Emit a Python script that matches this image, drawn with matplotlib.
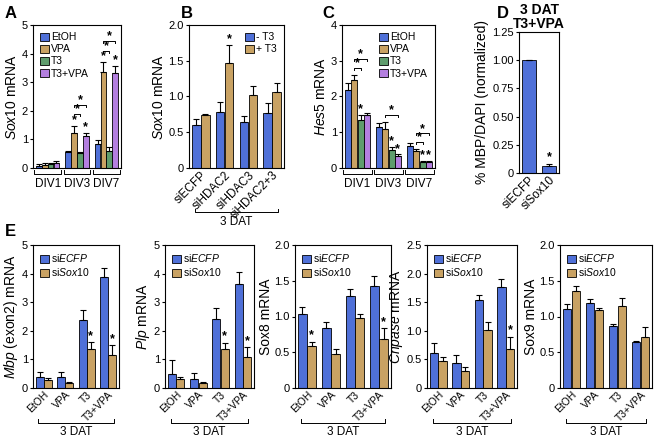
import matplotlib
matplotlib.use("Agg")
import matplotlib.pyplot as plt
import matplotlib.transforms as mtransforms
from matplotlib.patches import Patch
import numpy as np

plt.rcParams['font.family'] = ['Liberation Sans', 'DejaVu Sans']
plt.rcParams['mathtext.fontset'] = 'custom'
plt.rcParams['mathtext.rm'] = 'Liberation Sans'
plt.rcParams['mathtext.it'] = 'Liberation Sans:italic'
plt.rcParams['axes.linewidth'] = 0.8

BLUE = '#4f70d8'
TAN = '#c9a263'
GREEN = '#5f9d6d'
PURPLE = '#b47fe0'

# ---- panel A: Sox10 over time
divs = ['DIV1', 'DIV3', 'DIV7']
treat = ['EtOH', 'VPA', 'T3', 'T3+VPA']
a_vals = [[0.08, 0.55, 0.85], [0.12, 1.24, 3.37], [0.13, 0.52, 0.60], [0.17, 1.13, 3.32]]
a_errs = [[0.06, 0.03, 0.13], [0.07, 0.22, 0.33], [0.05, 0.05, 0.13], [0.07, 0.08, 0.25]]
a_stars = [(1, 1), (1, 2), (3, 1), (3, 2)]  # (series, group)
a_brackets = [(1, 1, 2, 1.89), (1, 1, 3, 2.2), (2, 1, 2, 4.1), (2, 1, 3, 4.44)]  # group, s1, s2, y

# ---- panel B: Sox10 with HDAC knockdown
b_cats = ['siECFP', 'siHDAC2', 'siHDAC3', 'siHDAC2+3']
b_minus = [0.60, 0.79, 0.65, 0.77]
b_minus_err = [0.09, 0.13, 0.08, 0.14]
b_plus = [0.74, 1.47, 1.02, 1.06]
b_plus_err = [0.02, 0.25, 0.13, 0.13]

# ---- panel C: Hes5
c_vals = [[2.17, 1.14, 0.61], [2.47, 1.08, 0.48], [1.33, 0.50, 0.17], [1.48, 0.33, 0.17]]
c_errs = [[0.22, 0.12, 0.08], [0.13, 0.22, 0.04], [0.15, 0.10, 0.03], [0.06, 0.05, 0.02]]
c_stars = [(2, 0), (2, 1), (3, 1), (2, 2), (3, 2)]
c_brackets = [(0, 1, 2, 2.8), (0, 1, 3, 3.05), (1, 1, 3, 1.48), (2, 1, 2, 0.74), (2, 1, 3, 0.97)]

# ---- panel D
d_cats = ['siECFP', 'siSox10']
d_vals = [1.00, 0.065]
d_errs = [0.0, 0.015]

# ---- panel E
e_cats = ['EtOH', 'VPA', 'T3', 'T3+VPA']
e_genes = [r'$\it{Mbp}$ (exon2) mRNA', r'$\it{Plp}$ mRNA', 'Sox8 mRNA', r'$\it{Cnpase}$ mRNA', 'Sox9 mRNA']
e_ecfp = [[0.40, 0.37, 2.37, 3.87], [0.50, 0.33, 2.42, 3.62], [1.04, 0.84, 1.28, 1.43],
          [0.62, 0.44, 1.54, 1.76], [1.10, 1.19, 0.87, 0.64]]
e_ecfp_err = [[0.17, 0.20, 0.37, 0.33], [0.48, 0.18, 0.38, 0.45], [0.09, 0.09, 0.10, 0.13],
              [0.16, 0.13, 0.09, 0.15], [0.07, 0.06, 0.02, 0.02]]
e_sox10 = [[0.27, 0.18, 1.38, 1.15], [0.30, 0.17, 1.37, 1.07], [0.59, 0.48, 0.98, 0.69],
           [0.47, 0.30, 1.02, 0.69], [1.35, 1.09, 1.14, 0.71]]
e_sox10_err = [[0.07, 0.03, 0.23, 0.35], [0.07, 0.05, 0.22, 0.37], [0.06, 0.07, 0.06, 0.15],
               [0.07, 0.07, 0.13, 0.21], [0.07, 0.03, 0.12, 0.15]]
e_stars = [[2, 3], [2, 3], [0, 3], [3], []]
e_ymax = [5, 5, 2.0, 2.5, 2.0]
e_ticks = [[0, 1, 2, 3, 4, 5], [0, 1, 2, 3, 4, 5], [0, 0.5, 1.0, 1.5, 2.0],
           [0, 0.5, 1.0, 1.5, 2.0, 2.5], [0, 0.5, 1.0, 1.5, 2.0]]
e_lefts = [33, 165, 295, 427, 560]
e_rights = [119, 254, 391, 517, 652]

W, H = 654, 437
fig = plt.figure(figsize=(W / 100, H / 100), dpi=100)

TICK = 8
LAB = 10
LEG = 7.5


def make_ax(l, r, t, b):
    return fig.add_axes([l / W, 1 - b / H, (r - l) / W, (b - t) / H])


def style(ax, ticks, labels=None, xsize=8.5):
    ax.set_yticks(ticks)
    if labels is None:
        labels = ['0' if v == 0 else (f'{v:g}' if max(ticks) >= 3 else f'{v:.1f}') for v in ticks]
    ax.set_yticklabels(labels)
    ax.tick_params(axis='y', labelsize=TICK, length=2.5, width=0.8, pad=1.2)
    ax.tick_params(axis='x', length=0, labelsize=xsize, pad=1)
    ax.set_ylim(0, max(ticks))


def bars(ax, x, vals, errs, color, width):
    ax.bar(x, vals, width, color=color, edgecolor='black', linewidth=0.6, zorder=2)
    ax.errorbar(x, vals, yerr=[np.zeros(len(vals)), errs], fmt='none', ecolor='black',
                elinewidth=0.8, capsize=2, capthick=0.8, zorder=3)


def star(ax, x, y):
    ax.annotate('*', (x, y), xytext=(0, -1), textcoords='offset points', ha='center',
                va='bottom', fontsize=9, fontweight='bold')


def sig(ax, x1, x2, y, h):
    ax.plot([x1, x1, x2, x2], [y - h, y, y, y - h], color='black', lw=0.7)
    star(ax, (x1 + x2) / 2, y)


def group_brackets(ax, centers, half, ylin, ytxt, labels, size=8.5):
    tr = mtransforms.blended_transform_factory(ax.transData, ax.transAxes)
    for c, lab in zip(centers, labels):
        ax.plot([c - half, c - half, c + half, c + half], [ylin + 0.025, ylin, ylin, ylin + 0.025],
                color='black', lw=0.7, transform=tr, clip_on=False)
        if lab:
            ax.text(c, ytxt, lab, transform=tr, ha='center', va='center', fontsize=size)


def legend(ax, labels, colors, loc):
    h = [Patch(facecolor=c, edgecolor='black', linewidth=0.6) for c in colors]
    ax.legend(h, labels, loc=loc, frameon=False, fontsize=LEG, handlelength=0.85,
              handleheight=0.85, handletextpad=0.2, labelspacing=0.2, borderaxespad=0.3)


# ---------------- A
axA = make_ax(33, 121, 25, 168)
g = np.arange(3)
offs = [-0.3, -0.1, 0.1, 0.3]
cols4 = [BLUE, TAN, GREEN, PURPLE]
for s in range(4):
    bars(axA, g + offs[s], a_vals[s], a_errs[s], cols4[s], 0.19)
for s, gi in a_stars:
    star(axA, gi + offs[s], a_vals[s][gi] + a_errs[s][gi] + 0.05)
for gi, s1, s2, y in a_brackets:
    sig(axA, gi + offs[s1], gi + offs[s2], y, 0.08)
axA.set_xlim(-0.5, 2.5)
axA.set_xticks([])
style(axA, [0, 1, 2, 3, 4, 5])
axA.set_ylabel(r'$\it{Sox10}$ mRNA', fontsize=LAB, labelpad=2)
legend(axA, treat, cols4, 'upper left')
group_brackets(axA, g, 0.46, -0.04, -0.11, divs)

# ---------------- B
axB = make_ax(189, 284, 25, 168)
x = np.arange(4)
bars(axB, x - 0.19, b_minus, b_minus_err, BLUE, 0.36)
bars(axB, x + 0.19, b_plus, b_plus_err, TAN, 0.36)
star(axB, 1 + 0.19, b_plus[1] + b_plus_err[1] + 0.02)
axB.set_xlim(-0.5, 3.5)
axB.set_xticks(x)
axB.set_xticklabels(b_cats, rotation=45, ha='right', rotation_mode='anchor')
style(axB, [0, 0.5, 1.0, 1.5, 2.0])
axB.set_ylabel(r'$\it{Sox10}$ mRNA', fontsize=LAB, labelpad=2)
legend(axB, ['- T3', '+ T3'], [BLUE, TAN], 'upper right')
group_brackets(axB, [1.5], 1.75, -0.31, -0.38, ['3 DAT'])

# ---------------- C
axC = make_ax(342, 435, 25, 168)
for s in range(4):
    bars(axC, g + offs[s], c_vals[s], c_errs[s], cols4[s], 0.19)
for s, gi in c_stars:
    star(axC, gi + offs[s], c_vals[s][gi] + c_errs[s][gi] + 0.03)
for gi, s1, s2, y in c_brackets:
    sig(axC, gi + offs[s1], gi + offs[s2], y, 0.06)
axC.set_xlim(-0.5, 2.5)
axC.set_xticks([])
style(axC, [0, 1, 2, 3, 4])
axC.set_ylabel(r'$\it{Hes5}$ mRNA', fontsize=LAB, labelpad=2)
legend(axC, treat, cols4, 'upper right')
group_brackets(axC, g, 0.46, -0.04, -0.11, divs)

# ---------------- D
axD = make_ax(519, 559, 32, 173)
xd = np.arange(2)
bars(axD, xd, d_vals, d_errs, BLUE, 0.68)
star(axD, 1, d_vals[1] + d_errs[1] + 0.02)
axD.set_xlim(-0.5, 1.5)
axD.set_xticks(xd)
axD.set_xticklabels(d_cats, rotation=45, ha='right', rotation_mode='anchor')
style(axD, [0, 0.25, 0.5, 0.75, 1.0, 1.25], ['0', '0.25', '0.50', '0.75', '1.00', '1.25'])
axD.set_ylabel('% MBP/DAPI (normalized)', fontsize=LAB, labelpad=2)
axD.set_title('3 DAT\nT3+VPA', fontsize=10, fontweight='bold', pad=3, linespacing=1.0)

# ---------------- E
for i in range(5):
    ax = make_ax(e_lefts[i], e_rights[i], 245, 388)
    bars(ax, x - 0.19, e_ecfp[i], e_ecfp_err[i], BLUE, 0.36)
    bars(ax, x + 0.19, e_sox10[i], e_sox10_err[i], TAN, 0.36)
    for k in e_stars[i]:
        star(ax, k + 0.19, e_sox10[i][k] + e_sox10_err[i][k] + 0.01 * e_ymax[i])
    ax.set_xlim(-0.5, 3.5)
    ax.set_xticks(x)
    ax.set_xticklabels(e_cats, rotation=45, ha='right', rotation_mode='anchor')
    style(ax, e_ticks[i], xsize=7.5)
    ax.set_ylabel(e_genes[i], fontsize=LAB, labelpad=1)
    legend(ax, [r'si$\it{ECFP}$', r'si$\it{Sox10}$'], [BLUE, TAN], 'upper left')
    group_brackets(ax, [1.5], 1.75, -0.245, -0.31, ['3 DAT'])

for lab, px, py in [('A', 5, 14), ('B', 181, 14), ('C', 322, 14), ('D', 497, 14), ('E', 5, 232)]:
    fig.text(px / W, 1 - py / H, lab, fontsize=12, fontweight='bold', ha='left', va='center')

fig.savefig('out.png', dpi=100)
